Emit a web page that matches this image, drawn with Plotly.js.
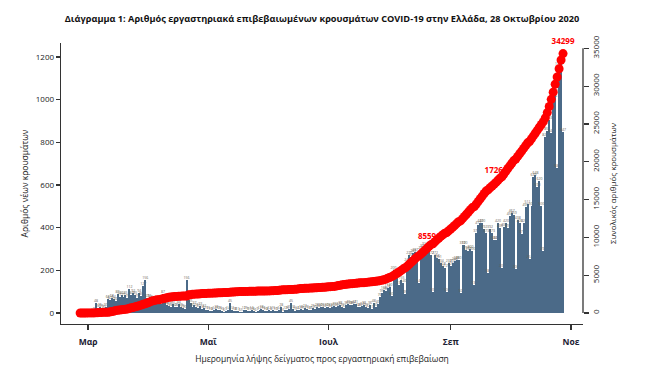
<!DOCTYPE html>
<html>
<head>
<meta charset="utf-8">
<script src="https://cdn.plot.ly/plotly-3.0.1.min.js"></script>
<style>html,body{margin:0;padding:0;background:#fff;}#chart{width:649px;height:374px;}</style>
</head>
<body>
<div id="chart"></div>
<script>
// ---- data ----
const firstDay = '2020-02-26';
// daily new cases by sampling date, per month
const dailyFeb = [1, 2, 0, 0];
const dailyMar = [0, 2, 3, 8, 48, 22, 26, 25, 20, 30, 66, 62, 68, 64, 56, 88, 77, 86, 77, 85, 70, 112, 84, 92, 85, 70, 94, 80, 127, 156, 69];
const dailyApr = [72, 66, 60, 48, 42, 44, 40, 87, 60, 38, 32, 28, 40, 30, 26, 44, 30, 25, 20, 156, 61, 45, 30, 37, 26, 22, 33, 18, 22, 15];
const dailyMay = [15, 10, 8, 14, 18, 12, 16, 10, 6, 9, 14, 45, 12, 10, 8, 11, 6, 5, 12, 15, 9, 10, 14, 8, 6, 9, 12, 18, 16, 10, 8];
const dailyJun = [12, 8, 15, 10, 9, 14, 28, 6, 12, 15, 20, 45, 18, 10, 14, 12, 18, 15, 22, 20, 14, 16, 25, 20, 28, 24, 30, 26, 22, 30];
const dailyJul = [28, 24, 30, 35, 26, 32, 38, 30, 22, 36, 40, 38, 36, 42, 41, 28, 26, 34, 38, 30, 22, 36, 17, 48, 30, 40, 76, 95, 108, 105, 118];
const dailyAug = [120, 80, 200, 186, 185, 131, 155, 140, 90, 240, 270, 262, 283, 287, 250, 140, 295, 303, 314, 300, 290, 272, 100, 272, 256, 251, 234, 218, 212, 100, 233];
const dailySep = [220, 233, 244, 248, 250, 92, 319, 320, 297, 290, 300, 290, 130, 373, 412, 420, 420, 392, 373, 186, 392, 373, 340, 342, 420, 400, 209, 405, 420, 397];
const dailyOct = [453, 467, 459, 206, 438, 420, 371, 420, 495, 511, 252, 501, 639, 648, 590, 620, 500, 292, 826, 851, 903, 843, 1006, 1030, 682, 1160, 1172, 847];

// cumulative total cases, per month
const cumFeb = [1, 3, 4, 4];
const cumMar = [7, 7, 7, 9, 31, 45, 66, 73, 84, 89, 99, 117, 190, 228, 331, 352, 387, 418, 464, 495, 530, 624, 695, 743, 821, 892, 966, 1061, 1156, 1212, 1314];
const cumApr = [1415, 1544, 1613, 1673, 1735, 1755, 1832, 1884, 1955, 2011, 2081, 2114, 2145, 2170, 2192, 2207, 2224, 2235, 2235, 2245, 2401, 2408, 2463, 2490, 2506, 2517, 2534, 2566, 2576, 2591];
const cumMay = [2612, 2620, 2626, 2632, 2642, 2663, 2678, 2691, 2710, 2716, 2726, 2744, 2760, 2770, 2810, 2819, 2834, 2836, 2840, 2850, 2853, 2873, 2876, 2878, 2882, 2892, 2903, 2906, 2909, 2915, 2917];
const cumJun = [2918, 2937, 2952, 2967, 2980, 2997, 3049, 3058, 3068, 3088, 3108, 3112, 3121, 3134, 3148, 3203, 3227, 3237, 3256, 3266, 3287, 3302, 3310, 3340, 3343, 3366, 3376, 3390, 3409, 3432];
const cumJul = [3458, 3486, 3511, 3519, 3562, 3622, 3672, 3732, 3772, 3803, 3826, 3852, 3879, 3908, 3939, 3964, 3983, 4007, 4012, 4048, 4077, 4110, 4133, 4155, 4193, 4227, 4279, 4336, 4401, 4477, 4587];
const cumAug = [4700, 4800, 4950, 5120, 5290, 5460, 5640, 5840, 5980, 6200, 6440, 6690, 6930, 7180, 7420, 7580, 7820, 8060, 8310, 8559, 8810, 9040, 9160, 9420, 9660, 9900, 10130, 10340, 10540, 10650, 10880];
const cumSep = [11100, 11330, 11570, 11820, 12070, 12180, 12470, 12770, 13050, 13350, 13650, 13940, 14070, 14410, 14760, 15110, 15460, 15800, 16130, 16300, 16560, 16790, 17030, 17265, 17550, 17830, 18020, 18380, 18730, 19100];
const cumOct = [19450, 19800, 20150, 20350, 20700, 21050, 21400, 21760, 22120, 22480, 22680, 23040, 23420, 23800, 24180, 24560, 24930, 25300, 25800, 26500, 27300, 28250, 29200, 30250, 31200, 32300, 33450, 34299];

// highlighted totals
const labelDates = ['2020-08-20', '2020-09-24', '2020-10-28'];
const labelValues = [8559, 17265, 34299];

// axis ticks
const monthTickDates = ['2020-03-01', '2020-05-01', '2020-07-01', '2020-09-01', '2020-11-01'];
const monthTickText = ['Μαρ', 'Μαΐ', 'Ιουλ', 'Σεπ', 'Νοε'];
const leftTicks = [0, 200, 400, 600, 800, 1000, 1200];
const rightTicks = [0, 5000, 10000, 15000, 20000, 25000, 30000, 35000];

const daily = [].concat(dailyFeb, dailyMar, dailyApr, dailyMay, dailyJun, dailyJul, dailyAug, dailySep, dailyOct);
const cumulative = [].concat(cumFeb, cumMar, cumApr, cumMay, cumJun, cumJul, cumAug, cumSep, cumOct);

const DAY = 86400000;
const font = 'Open Sans, DejaVu Sans, sans-serif';
const axisColor = '#333';

const traces = [
  {
    type: 'bar', x0: firstDay, dx: DAY, y: daily,
    marker: {color: '#4b6a88', line: {width: 0}},
    text: daily.map(String), textposition: 'outside', textangle: 0,
    constraintext: 'none', cliponaxis: false,
    textfont: {family: font, size: 3.5, color: '#6a6256'},
    hoverinfo: 'skip', showlegend: false
  },
  {
    type: 'scatter', mode: 'lines+markers', x0: firstDay, dx: DAY, y: cumulative, yaxis: 'y2',
    line: {color: '#ff0000', width: 3},
    marker: {color: '#ff0000', size: 9},
    cliponaxis: false, showlegend: false, hoverinfo: 'skip'
  },
  {
    type: 'scatter', mode: 'markers+text', x: labelDates, y: labelValues, yaxis: 'y2',
    marker: {size: 10, opacity: 0},
    text: labelValues.map(String), textposition: 'top center',
    textfont: {family: font, size: 8, color: '#ff0000', weight: 'bold'},
    cliponaxis: false, showlegend: false, hoverinfo: 'skip'
  }
];

const layout = {
  width: 649, height: 374,
  margin: {l: 61, r: 66, t: 43, b: 50, pad: 0},
  paper_bgcolor: '#fff', plot_bgcolor: '#fff',
  bargap: 0,
  showlegend: false,
  font: {family: font, color: '#222'},
  title: {
    text: 'Διάγραμμα 1: Αριθμός εργαστηριακά επιβεβαιωμένων κρουσμάτων COVID-19 στην Ελλάδα, 28 Οκτωβρίου 2020',
    font: {family: font, size: 9.2, color: '#111', weight: 'bold'},
    x: 0.5, xref: 'paper', xanchor: 'center',
    y: 1 - 19 / 374, yref: 'container', yanchor: 'middle'
  },
  xaxis: {
    type: 'date', range: ['2020-02-16 07:00', '2020-11-07 03:00'],
    tickvals: monthTickDates, ticktext: monthTickText,
    ticks: 'outside', ticklen: 5, tickcolor: axisColor, tickwidth: 1.2,
    ticklabelstandoff: 4,
    showline: true, linecolor: axisColor, linewidth: 1.3,
    showgrid: false, zeroline: false,
    tickfont: {family: font, size: 8.5, color: '#1c2233', weight: 'bold'},
    title: {text: 'Ημερομηνία λήψης δείγματος προς εργαστηριακή επιβεβαίωση', font: {family: font, size: 8.5, color: '#222'}, standoff: 10}
  },
  yaxis: {
    range: [-51.6, 1265.6], tickvals: leftTicks, ticktext: leftTicks.map(String),
    ticks: 'outside', ticklen: 4, tickcolor: axisColor, tickwidth: 1.2,
    showline: true, linecolor: axisColor, linewidth: 1.3,
    showgrid: false, zeroline: false,
    tickfont: {family: font, size: 8, color: '#222'},
    title: {text: 'Αριθμός νέων κρουσμάτων', font: {family: font, size: 8.5, color: '#222'}, standoff: 5}
  },
  yaxis2: {
    overlaying: 'y', side: 'right', anchor: 'x',
    range: [-1455, 35700], tickvals: rightTicks, ticktext: rightTicks.map(String),
    ticks: 'outside', ticklen: 5, tickcolor: axisColor, tickwidth: 1.2, tickangle: -90,
    showline: false, showgrid: false, zeroline: false,
    tickfont: {family: font, size: 8, color: '#222'},
    title: {text: 'Συνολικός αριθμός κρουσμάτων', font: {family: font, size: 8, color: '#222'}, standoff: 10}
  },
  shapes: [
    {type: 'line', xref: 'paper', x0: 1, x1: 1, yref: 'y2', y0: rightTicks[0], y1: rightTicks[rightTicks.length - 1],
     line: {color: axisColor, width: 1.3}}
  ]
};

Plotly.newPlot('chart', traces, layout, {displayModeBar: false, staticPlot: true});
</script>
</body>
</html>
